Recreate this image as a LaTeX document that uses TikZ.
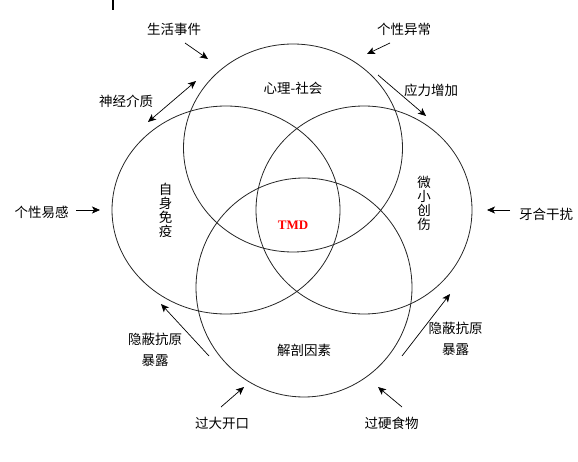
\documentclass[tikz,border=0pt]{standalone}
\usepackage{fontspec}
\setmainfont{Liberation Serif}
\newfontfamily\cjk{Noto Sans CJK SC}
\usetikzlibrary{arrows.meta,shapes.geometric}
\definecolor{tmdred}{HTML}{FF0000}

\begin{document}
\begin{tikzpicture}[x=1pt, y=-1pt,
    every node/.style={font=\cjk\fontsize{13.5}{14}\selectfont, inner sep=0pt},
    factor/.style={draw=black!85, ellipse, line width=0.8pt},
    twoline/.style={align=center, font=\cjk\fontsize{13.5}{21}\selectfont},
    arr/.style={-{Stealth[length=8pt,width=7pt,inset=2pt]}, line width=0.7pt}]
  \useasboundingbox (0,0) rectangle (578,462);
  \draw[line width=1.4pt] (113,0) -- (113,10);

  % Four overlapping factor circles
  \node[factor, minimum width=219pt, minimum height=208pt] (psych) at (293,148) {};
  \node[factor, minimum width=228pt, minimum height=208pt] (immune) at (226,210) {};
  \node[factor, minimum width=216pt, minimum height=208pt] (trauma) at (364,210) {};
  \node[factor, minimum width=216pt, minimum height=219pt] (anat) at (304,287.5) {};

  % Circle labels
  \node (psychlbl) at (293,88) {心理-社会};
  \node[align=center] (immunelbl) at (165.5,210) {自\\身\\免\\疫};
  \node[align=center] (traumalbl) at (424,203) {微\\小\\创\\伤};
  \node (anatlbl) at (304,350) {解剖因素};
  \node[font=\bfseries\fontsize{13}{14}\selectfont, text=tmdred] (tmd) at (293,225) {TMD};

  % Outside factors
  \node (life) at (174,29) {生活事件};
  \node (persab) at (404,29) {个性异常};
  \node (neuro) at (126,101) {神经介质};
  \node (stress) at (431,90) {应力增加};
  \node (perssus) at (41.5,212) {个性易感};
  \node (occl) at (546,214) {牙合干扰};
  \node[twoline] (antigenl) at (155,350) {隐蔽抗原\\暴露};
  \node[twoline] (antigenr) at (455.5,339) {隐蔽抗原\\暴露};
  \node (openmouth) at (222,423) {过大开口};
  \node (hardfood) at (391.5,423) {过硬食物};

  % Arrow end points
  \coordinate (lifeA) at (185,43);      \coordinate (lifeB) at (208,59);
  \coordinate (persabA) at (390,43);    \coordinate (persabB) at (367,54);
  \coordinate (neuroA) at (148,122);    \coordinate (neuroB) at (196,81);
  \coordinate (stressA) at (378,75);    \coordinate (stressB) at (426,116);
  \coordinate (perssusA) at (76,210);   \coordinate (perssusB) at (100,210);
  \coordinate (occlA) at (510,210);     \coordinate (occlB) at (487,210);
  \coordinate (antlA) at (209,356);     \coordinate (antlB) at (161,304);
  \coordinate (antrA) at (402,356);     \coordinate (antrB) at (450,294);
  \coordinate (openA) at (221,407);     \coordinate (openB) at (244,387);
  \coordinate (hardA) at (402,407);     \coordinate (hardB) at (378,387);

  % Arrows
  \draw[arr] (lifeA) -- (lifeB);
  \draw[arr] (persabA) -- (persabB);
  \draw[arr, {Stealth[length=8pt,width=7pt,inset=2pt]}-{Stealth[length=8pt,width=7pt,inset=2pt]}] (neuroA) -- (neuroB);
  \draw[arr] (stressA) -- (stressB);
  \draw[arr] (perssusA) -- (perssusB);
  \draw[arr] (occlA) -- (occlB);
  \draw[arr] (antlA) -- (antlB);
  \draw[arr] (antrA) -- (antrB);
  \draw[arr] (openA) -- (openB);
  \draw[arr] (hardA) -- (hardB);
\end{tikzpicture}
\end{document}
